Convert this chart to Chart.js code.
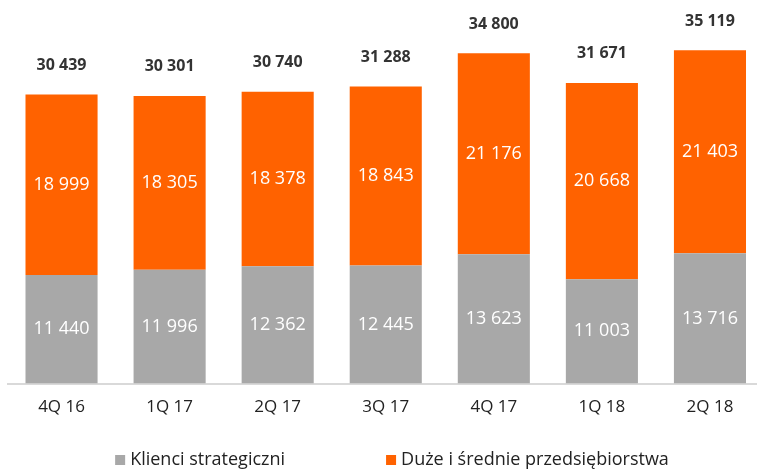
<!DOCTYPE html>
<html>
<head>
<meta charset="utf-8">
<script src="https://cdn.jsdelivr.net/npm/chart.js@4.4.0/dist/chart.umd.min.js"></script>
<style>
  html, body { margin: 0; padding: 0; background: #fff; overflow: hidden; width: 757px; height: 470px; }
  #wrap { position: relative; width: 764px; height: 480px; }
</style>
</head>
<body>
<div id="wrap"><canvas id="chart"></canvas></div>
<script>
/* data */
const quarters = ["4Q 16", "1Q 17", "2Q 17", "3Q 17", "4Q 17", "1Q 18", "2Q 18"];
const strategic = [11440, 11996, 12362, 12445, 13623, 11003, 13716];
const midLarge = [18999, 18305, 18378, 18843, 21176, 20668, 21403];
const totals = [30439, 30301, 30740, 31288, 34800, 31671, 35119];

const FONT = "'Open Sans', sans-serif";

function fmt(n){ return String(n).replace(/\B(?=(\d{3})+(?!\d))/g, " "); }

/* value labels inside segments, totals above, legend at the bottom */
const labelsPlugin = {
  id: "barLabels",
  afterDatasetsDraw(chart){
    const ctx = chart.ctx;
    ctx.save();
    ctx.textAlign = "center";
    ctx.textBaseline = "middle";
    chart.data.datasets.forEach((ds, di) => {
      const meta = chart.getDatasetMeta(di);
      ctx.font = "18px " + FONT;
      ctx.fillStyle = "#ffffff";
      meta.data.forEach((bar, i) => {
        ctx.fillText(fmt(ds.data[i]), bar.x, (bar.y + bar.base) / 2);
      });
    });
    const top = chart.getDatasetMeta(chart.data.datasets.length - 1);
    ctx.font = "bold 16px " + FONT;
    ctx.fillStyle = "#333333";
    top.data.forEach((bar, i) => {
      ctx.fillText(fmt(totals[i]), bar.x, bar.y - 29);
    });
    ctx.restore();
  },
  afterDraw(chart){
    const ctx = chart.ctx;
    ctx.save();
    ctx.font = "18px " + FONT;
    ctx.textBaseline = "middle";
    ctx.textAlign = "left";
    const box = 10, gapBox = 5, gapItem = 101, y = 460;
    const items = chart.data.datasets.map(ds => ({ text: ds.label, color: ds.backgroundColor, w: ctx.measureText(ds.label).width }));
    const total = items.reduce((s, it) => s + box + gapBox + it.w, 0) + gapItem * (items.length - 1);
    let x = 392 - total / 2;
    items.forEach(it => {
      ctx.fillStyle = it.color;
      ctx.fillRect(x, y - 5, box, box);
      ctx.fillStyle = "#222";
      ctx.fillText(it.text, x + box + gapBox, y);
      x += box + gapBox + it.w + gapItem;
    });
    ctx.restore();
  }
};

new Chart(document.getElementById("chart"), {
  type: "bar",
  data: {
    labels: quarters,
    datasets: [
      { label: "Klienci strategiczni", data: strategic, backgroundColor: "#a8a8a8" },
      { label: "Duże i średnie przedsiębiorstwa", data: midLarge, backgroundColor: "#ff6200" }
    ]
  },
  options: {
    responsive: true,
    maintainAspectRatio: false,
    animation: false,
    layout: { padding: { left: 7.5, right: 0, top: 0, bottom: 58 } },
    datasets: { bar: { categoryPercentage: 1, barPercentage: 0.667 } },
    plugins: {
      legend: { display: false },
      tooltip: { enabled: false }
    },
    scales: {
      x: {
        stacked: true,
        grid: { display: false },
        border: { color: "#d9d9d9", width: 2 },
        ticks: { color: "#222", padding: 5, font: { family: FONT, size: 17 } }
      },
      y: {
        stacked: true, display: false, min: 0, max: 40400
      }
    }
  },
  plugins: [labelsPlugin]
});
</script>
</body>
</html>
